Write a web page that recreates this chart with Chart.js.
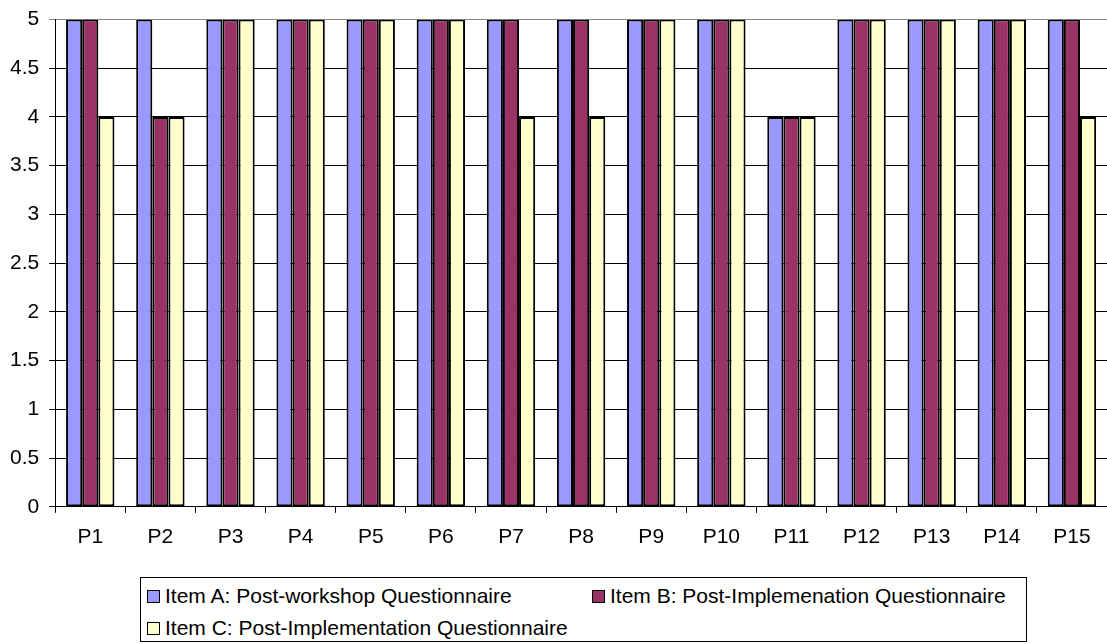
<!DOCTYPE html>
<html>
<head>
<meta charset="utf-8">
<script src="https://cdn.jsdelivr.net/npm/chart.js@4"></script>
<style>
  body { margin: 0; background: #fff; font-family: "Liberation Sans", Arial, sans-serif; }
  #wrap { position: absolute; left: 0; top: 0; width: 1107px; height: 562px; }
  #legend { position: absolute; left: 140px; top: 577px; width: 885px; height: 63px;
            border: 1px solid #000; font-size: 21px; color: #000; }
  .item { position: absolute; display: flex; align-items: center; white-space: nowrap; height: 24px; }
  .box { width: 11px; height: 11px; border: 1px solid #000; margin-right: 5px; }
</style>
</head>
<body>
<div id="wrap"><canvas id="barChart"></canvas></div>
<div id="legend"></div>
<script>
const labels = ["P1", "P2", "P3", "P4", "P5", "P6", "P7", "P8", "P9", "P10", "P11", "P12", "P13", "P14", "P15"];
const itemA = [5, 5, 5, 5, 5, 5, 5, 5, 5, 5, 4, 5, 5, 5, 5];
const itemB = [5, 4, 5, 5, 5, 5, 5, 5, 5, 5, 4, 5, 5, 5, 5];
const itemC = [4, 4, 5, 5, 5, 5, 4, 4, 5, 5, 4, 5, 5, 5, 4];
const seriesNames = [
  "Item A: Post-workshop Questionnaire",
  "Item B: Post-Implemenation Questionnaire",
  "Item C: Post-Implementation Questionnaire",
];
const colors = ["#9999FF", "#993366", "#FFFFCC"];

const font = { family: "'Liberation Sans', Arial, sans-serif", size: 21 };

const barChart = document.querySelector("#barChart");
const graph = new Chart(barChart, {
  type: "bar",
  data: {
    labels: labels,
    datasets: [itemA, itemB, itemC].map((d, i) => ({
      label: seriesNames[i],
      data: d,
      backgroundColor: colors[i],
      borderColor: "#000",
      borderWidth: 2,
      borderSkipped: false,
      categoryPercentage: 0.69,
      barPercentage: 1,
    })),
  },
  options: {
    responsive: true,
    maintainAspectRatio: false,
    animation: false,
    layout: { padding: { top: 0, right: 0, left: 0, bottom: 0 } },
    plugins: {
      legend: { display: false },
      tooltip: { enabled: false },
    },
    scales: {
      x: {
        grid: { drawOnChartArea: false, drawTicks: true, tickLength: 6, color: "#000" },
        border: { color: "#000", width: 1 },
        ticks: { color: "#000", font: font, padding: 12 },
      },
      y: {
        min: 0,
        max: 5,
        ticks: {
          stepSize: 0.5,
          color: "#000",
          font: { ...font, lineHeight: 0.9 },
          padding: 10,
          callback: (v) => String(v),
        },
        grid: {
          color: (ctx) => (ctx.tick && ctx.tick.value === 5 ? "#888" : "#000"),
          tickLength: 6,
        },
        border: { color: "#000", width: 1 },
      },
    },
  },
});

const legend = document.querySelector("#legend");
const pos = [[6, 6], [451, 6], [6, 38]];
seriesNames.forEach((name, i) => {
  const el = document.createElement("div");
  el.className = "item";
  el.style.left = pos[i][0] + "px";
  el.style.top = pos[i][1] + "px";
  el.innerHTML = '<span class="box" style="background:' + colors[i] + '"></span>' + name;
  legend.appendChild(el);
});
</script>
</body>
</html>
